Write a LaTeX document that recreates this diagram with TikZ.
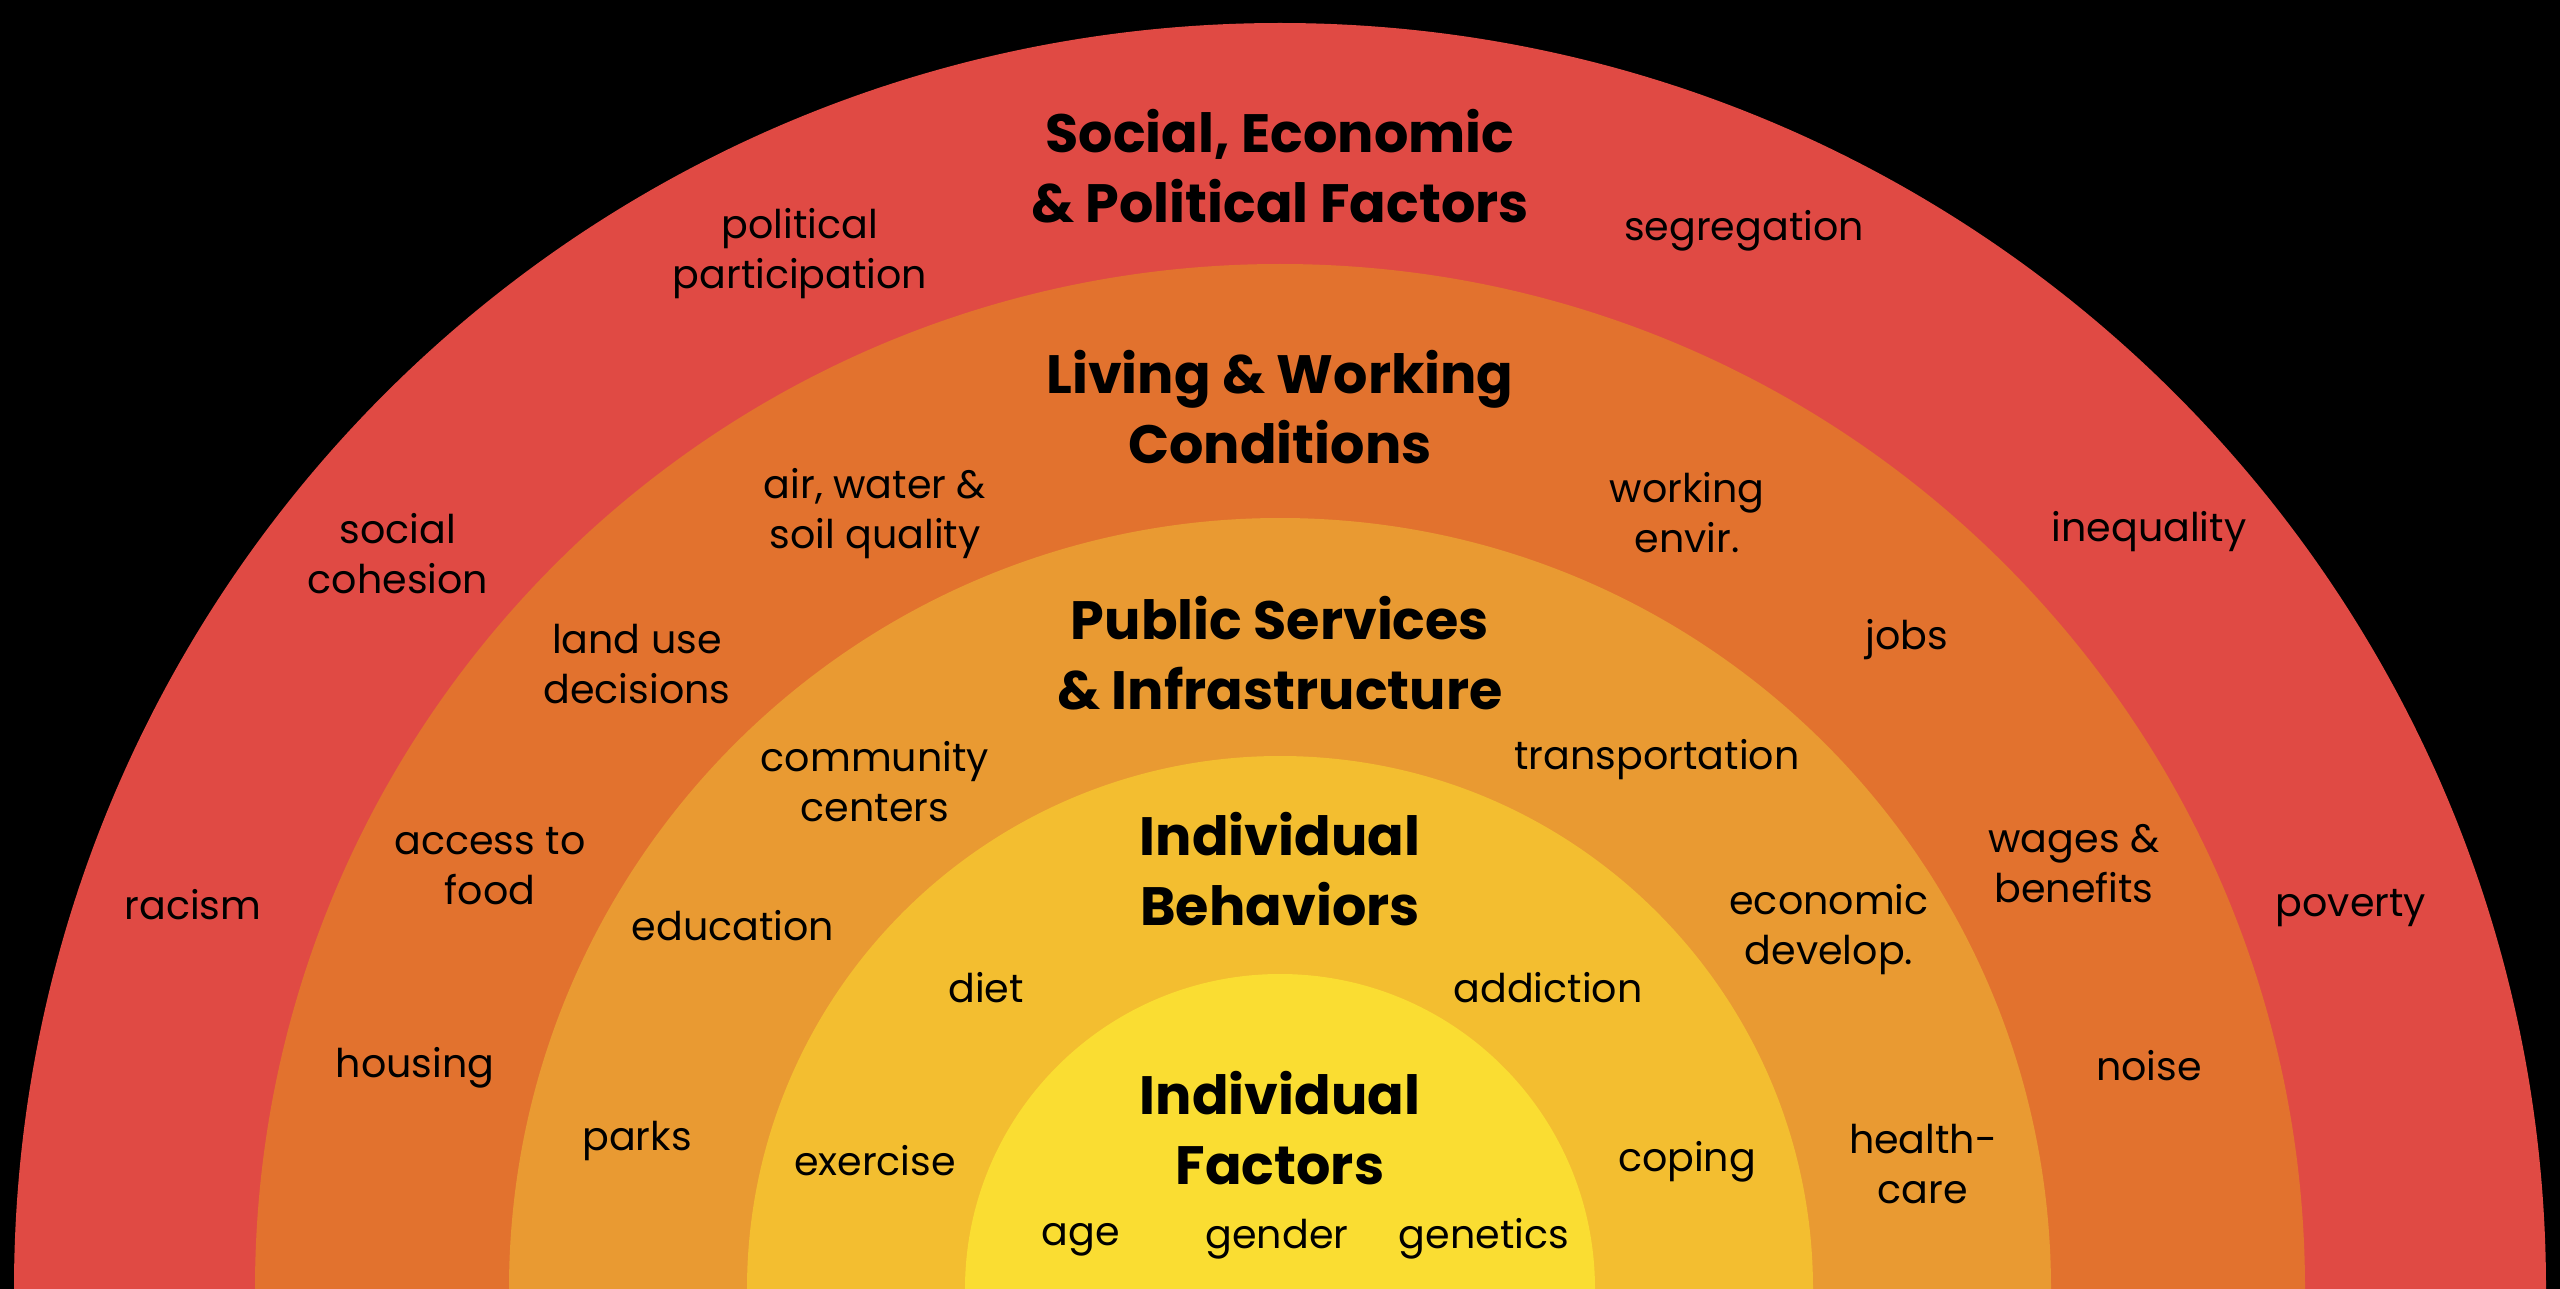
\documentclass[tikz,border=0pt]{standalone}
\usepackage{fontspec}
\setmainfont{Poppins}
\begin{document}
\begin{tikzpicture}[x=0.5pt,y=-0.5pt,
  lbl/.style={font=\fontsize{19.8}{25}\selectfont, align=center, text=black, inner sep=0pt},
  ttl/.style={font=\fontsize{27}{35}\selectfont\bfseries, align=center, text=black, inner sep=0pt}]
\definecolor{cRed}{RGB}{224,74,68}
\definecolor{cOrange}{RGB}{226,114,46}
\definecolor{cLightOrange}{RGB}{233,154,50}
\definecolor{cGold}{RGB}{243,190,48}
\definecolor{cYellow}{RGB}{250,221,50}
\fill[black] (0,0) rectangle (2560,1289);
\useasboundingbox (0,0) rectangle (2560,1289);
\begin{scope}
\clip (0,0) rectangle (2560,1289);
\coordinate (c) at (1280,1289);
\fill[cRed] (c) circle (1266);
\fill[cOrange] (c) circle (1025);
\fill[cLightOrange] (c) circle (771);
\fill[cGold] (c) circle (533);
\fill[cYellow] (c) circle (315);
\end{scope}
% titles
\node[ttl] (t1) at (1280,166) {Social, Economic\\\& Political Factors};
\node[ttl] (t2) at (1280,407) {Living \& Working\\Conditions};
\node[ttl] (t3) at (1280,653) {Public Services\\\& Infrastructure};
\node[ttl] (t4) at (1280,869) {Individual\\Behaviors};
\node[ttl] (t5) at (1280,1128) {Individual\\Factors};
% red layer
\node[lbl] (pp) at (800,254) {political\\participation};
\node[lbl] (seg) at (1744,231) {segregation};
\node[lbl] (sc) at (398,554) {social\\cohesion};
\node[lbl] (ineq) at (2149,532) {inequality};
\node[lbl] (rac) at (193,905) {racism};
\node[lbl] (pov) at (2351,908) {poverty};
% orange layer
\node[lbl] (air) at (875,514) {air, water \&\\soil quality};
\node[lbl] (work) at (1687,513) {working\\envir.};
\node[lbl] (land) at (637,664) {land use\\decisions};
\node[lbl] (jobs) at (1907,640) {jobs};
\node[lbl] (food) at (490,866) {access to\\food};
\node[lbl] (wage) at (2074,864) {wages \&\\benefits};
\node[lbl] (hous) at (415,1068) {housing};
\node[lbl] (noise) at (2149,1066) {noise};
% light orange layer
\node[lbl] (comm) at (875,782) {community\\centers};
\node[lbl] (trans) at (1657,760) {transportation};
\node[lbl] (edu) at (733,926) {education};
\node[lbl] (econ) at (1829,930) {economic\\develop.};
\node[lbl] (parks) at (637,1141) {parks};
\node[lbl] (hc) at (1923,1164) {health-\\care};
% gold layer
\node[lbl] (diet) at (986,988) {diet};
\node[lbl] (add) at (1548,988) {addiction};
\node[lbl] (exer) at (875,1161) {exercise};
\node[lbl] (cop) at (1687,1162) {coping};
% yellow
\node[lbl] (age) at (1081,1240) {age};
\node[lbl] (gen) at (1277,1239) {gender};
\node[lbl] (gene) at (1484,1239) {genetics};
\end{tikzpicture}
\end{document}
